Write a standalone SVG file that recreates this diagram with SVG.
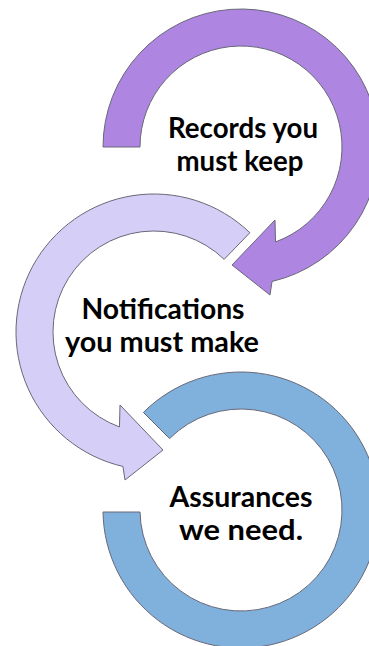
<svg xmlns="http://www.w3.org/2000/svg" width="369" height="646" viewBox="0 0 369 646">
  <style>
    .arc { stroke: #686878; stroke-width: 1; stroke-linejoin: miter; }
    .purple { fill: #AE85E1; }
    .lav { fill: #D5CEF6; }
    .blue { fill: #80B0DC; }
    .lbl { font-family: Lato, "Open Sans", "Liberation Sans", sans-serif; font-weight: bold; font-size: 28px; fill: #000; text-anchor: middle; }
  </style>
  <rect width="369" height="646" fill="#fff"/>
  <g id="connectors"></g>
  <g id="node-records">
    <path class="arc purple" d="M103,147 A138,138 0 1 1 272.04,281.46 L270,295 L232,265 L275,220 L275.54,241.91 A101,101 0 1 0 140,147 Z"/>
    <text class="lbl" x="243" y="138" textLength="150" lengthAdjust="spacingAndGlyphs">Records you</text>
    <text class="lbl" x="240" y="171" textLength="127" lengthAdjust="spacingAndGlyphs">must keep</text>
  </g>
  <g id="node-notifications">
    <path class="arc lav" d="M249.86,232.73 A138,138 0 1 0 122.96,466.46 L125,480 L163,450 L120,405 L119.46,426.91 A101,101 0 1 1 224.16,259.35 Z"/>
    <text class="lbl" x="163" y="319" textLength="163" lengthAdjust="spacingAndGlyphs">Notifications</text>
    <text class="lbl" x="162" y="352" textLength="194" lengthAdjust="spacingAndGlyphs">you must make</text>
  </g>
  <g id="node-assurances">
    <path class="arc blue" d="M143.42,412.42 A138,138 0 1 1 103.01,512 L140.02,512 A101,101 0 1 0 169.58,438.58 Z"/>
    <text class="lbl" x="241" y="507" textLength="143" lengthAdjust="spacingAndGlyphs">Assurances</text>
    <text class="lbl" x="241" y="540" textLength="124" lengthAdjust="spacingAndGlyphs">we need.</text>
  </g>
</svg>
